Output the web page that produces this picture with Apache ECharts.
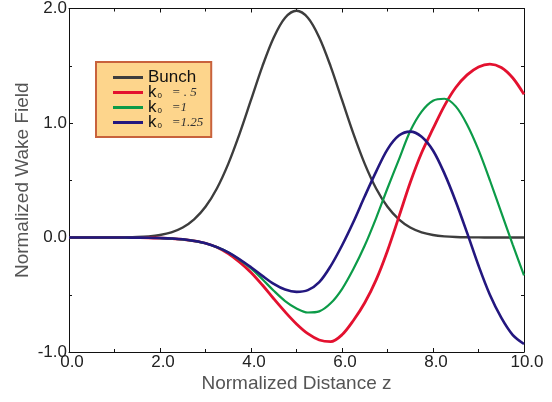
<!DOCTYPE html>
<html>
<head>
<meta charset="utf-8">
<script src="https://cdn.jsdelivr.net/npm/echarts@6/dist/echarts.min.js"></script>
<style>
html,body{margin:0;padding:0;background:#fff;}
#chart{width:552px;height:402px;}
</style>
</head>
<body>
<div id="chart"></div>
<script>
const zValues = [0,0.25,0.5,0.75,1,1.25,1.5,1.75,2,2.25,2.5,2.75,3,3.25,3.5,3.75,4,4.25,4.5,4.75,5,5.25,5.5,5.75,6,6.25,6.5,6.75,7,7.25,7.5,7.75,8,8.25,8.5,8.75,9,9.25,9.5,9.75,10];
const bunch = [0,0,0.0001,0.0002,0.0007,0.0017,0.0043,0.0101,0.022,0.045,0.087,0.158,0.268,0.428,0.643,0.907,1.201,1.495,1.747,1.919,1.98,1.919,1.747,1.495,1.201,0.907,0.643,0.428,0.268,0.158,0.087,0.045,0.022,0.0101,0.0043,0.0017,0.0007,0.0002,0.0001,0,0];
const wakeK05 = [0,0,0,0,0,-0.0005,-0.001,-0.002,-0.005,-0.009,-0.016,-0.03,-0.05,-0.085,-0.14,-0.215,-0.305,-0.415,-0.535,-0.65,-0.755,-0.84,-0.895,-0.91,-0.85,-0.725,-0.57,-0.37,-0.115,0.18,0.48,0.74,0.95,1.15,1.31,1.42,1.49,1.515,1.485,1.395,1.25];
const wakeK1 = [0,0,0,0,0,-0.0005,-0.001,-0.002,-0.005,-0.009,-0.016,-0.03,-0.05,-0.084,-0.13,-0.195,-0.27,-0.365,-0.465,-0.555,-0.62,-0.655,-0.645,-0.575,-0.45,-0.275,-0.07,0.17,0.43,0.68,0.93,1.1,1.195,1.212,1.145,0.985,0.765,0.5,0.22,-0.06,-0.33];
const wakeK125 = [0,0,0,0,0,-0.0005,-0.001,-0.002,-0.005,-0.009,-0.016,-0.03,-0.05,-0.084,-0.13,-0.19,-0.26,-0.335,-0.405,-0.455,-0.475,-0.46,-0.39,-0.25,-0.07,0.135,0.36,0.575,0.77,0.89,0.925,0.88,0.76,0.56,0.315,0.04,-0.245,-0.5,-0.7,-0.85,-0.93];
const seriesNames = ['Bunch','k0 = .5','k0 =1','k0 =1.25'];
const legendSuffix = {'k0 = .5':'   = . 5','k0 =1':'   =1','k0 =1.25':'   =1.25'};
const xTickFmt = v => v.toFixed(1);

const pair = arr => zValues.map((z,i)=>[z, arr[i]]);
const chart = echarts.init(document.getElementById('chart'), null, {renderer:'canvas'});
const axisCommon = () => ({
  axisLine:{show:true, onZero:false, lineStyle:{color:'#111', width:1}},
  axisTick:{show:true, inside:true, length:4, lineStyle:{color:'#111'}},
  minorTick:{show:true, splitNumber:2, length:3, lineStyle:{color:'#111'}},
  splitLine:{show:false}, minorSplitLine:{show:false}
});
const SMOOTH = 0.33;
const option = {
  animation:false,
  backgroundColor:'#fff',
  grid:{left:69, right:28, top:7, bottom:50, containLabel:false},
  xAxis:[
    Object.assign({type:'value', min:0, max:10, interval:2, position:'bottom',
      name:'Normalized Distance z', nameLocation:'middle', nameGap:22, nameMoveOverlap:false,
      nameTextStyle:{fontSize:19, color:'#555', fontFamily:'Liberation Sans'},
      axisLabel:{formatter:xTickFmt, fontSize:17, color:'#222', margin:2, padding:[0,0,0,6], fontFamily:'Liberation Sans'}}, axisCommon()),
    Object.assign({type:'value', min:0, max:10, interval:2, position:'top', axisLabel:{show:false}}, axisCommon())
  ],
  yAxis:[
    Object.assign({type:'value', min:-1, max:2, interval:1, position:'left',
      name:'Normalized Wake Field', nameLocation:'middle', nameGap:37, nameMoveOverlap:false,
      nameTextStyle:{fontSize:19, color:'#555', fontFamily:'Liberation Sans'},
      axisLabel:{formatter:xTickFmt, fontSize:17, color:'#222', margin:2, fontFamily:'Liberation Sans'}}, axisCommon()),
    Object.assign({type:'value', min:-1, max:2, interval:1, position:'right', axisLabel:{show:false}}, axisCommon())
  ],
  legend:{
    orient:'vertical', left:96, top:62,
    data:seriesNames,
    backgroundColor:'#FDD58C', borderColor:'#C8623C', borderWidth:2, borderRadius:0,
    padding:[7,8,6,17], itemWidth:30, itemHeight:3, itemGap:-2, icon:'rect',
    textStyle:{fontSize:17, lineHeight:15, color:'#111', fontFamily:'Liberation Sans',
      rich:{
        k:{fontSize:17, lineHeight:15, color:'#111', fontFamily:'Liberation Sans'},
        s:{fontSize:8, lineHeight:15, color:'#111', padding:[7,0,0,1], fontFamily:'Liberation Sans'},
        e:{fontSize:13, lineHeight:15, color:'#333', fontStyle:'italic', fontFamily:'Liberation Serif'}
      }},
    formatter: name => name === 'Bunch' ? name : '{k|k}{s|0}{e|' + legendSuffix[name] + '}'
  },
  series:[
    {name:seriesNames[0], type:'line', data:pair(bunch), smooth:SMOOTH, showSymbol:false, lineStyle:{color:'#3d3d3d', width:2.4}, itemStyle:{color:'#3d3d3d'}},
    {name:seriesNames[1], type:'line', data:pair(wakeK05), smooth:SMOOTH, showSymbol:false, lineStyle:{color:'#e3112f', width:2.8}, itemStyle:{color:'#e3112f'}},
    {name:seriesNames[2], type:'line', data:pair(wakeK1), smooth:SMOOTH, showSymbol:false, lineStyle:{color:'#0c9b48', width:2.2}, itemStyle:{color:'#0c9b48'}},
    {name:seriesNames[3], type:'line', data:pair(wakeK125), smooth:SMOOTH, showSymbol:false, lineStyle:{color:'#23177f', width:2.6}, itemStyle:{color:'#23177f'}}
  ]
};
chart.setOption(option);
</script>
</body>
</html>
